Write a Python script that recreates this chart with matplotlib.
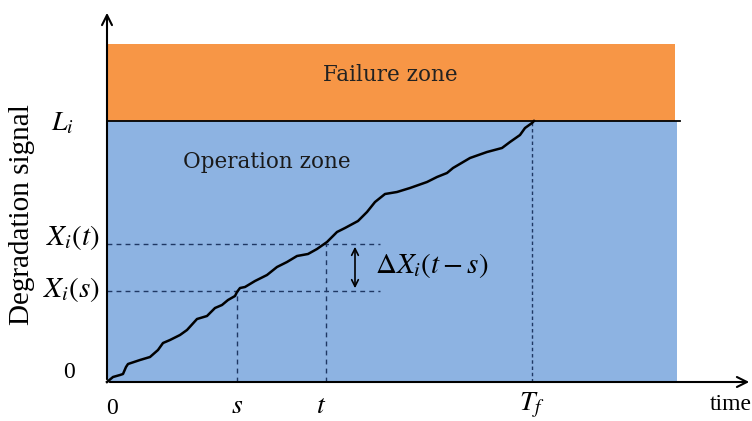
import matplotlib.pyplot as plt
import numpy as np

plt.rcParams['mathtext.fontset'] = 'stix'

# degradation path (time, signal)
path_t = [0, 6, 13, 16, 19, 21, 33, 43, 51, 56, 63, 73, 80, 90, 100, 108, 115, 121,
          128, 130, 133, 138, 148, 160, 170, 180, 190, 201, 210, 220, 230, 238, 251,
          260, 268, 278, 290, 303, 320, 330, 340, 346, 363, 380, 395, 403, 413, 418,
          425, 427]
path_x = [0, 5, 7, 8, 15, 18, 22, 25, 32, 39, 42, 47, 52, 63, 66, 74, 77, 82,
          86, 90, 94, 95, 101, 107, 115, 120, 126, 128, 133, 140, 150, 154, 161,
          170, 180, 188, 190, 194, 200, 205, 209, 214, 224, 230, 234, 240, 247, 254,
          259, 261]

# key levels / times
L_i = 261
s_val, t_val, Tf = 130, 219, 425
Xs, Xt = 91, 138
t_end = 570
top_fail = 338

orange = '#F79646'
blue = '#8DB3E2'
navy = '#1F3864'

fig = plt.figure(figsize=(7.52, 4.21), dpi=100)
ax = fig.add_axes([0, 0, 1, 1])
ax.set_xlim(-107, 752 - 107)
ax.set_ylim(382 - 421, 382)
ax.axis('off')

# zones
ax.fill_between([0, t_end - 2], L_i, top_fail, color=orange, lw=0)
ax.fill_between([0, t_end], 0, L_i, color=blue, lw=0)
ax.plot([0, 573], [L_i, L_i], color='black', lw=1.3)

# axes arrows
ax.annotate('', xy=(645, 0), xytext=(0, 0),
            arrowprops=dict(arrowstyle='->', lw=1.5, color='black', mutation_scale=18))
ax.annotate('', xy=(0, 372), xytext=(0, 0),
            arrowprops=dict(arrowstyle='->', lw=1.5, color='black', mutation_scale=18))

# guide lines
dash = dict(color=navy, lw=1, ls=(0, (3.5, 3)))
ax.plot([0, 273], [Xt, Xt], **dash)
ax.plot([0, 273], [Xs, Xs], **dash)
ax.plot([s_val, s_val], [0, Xs], **dash)
ax.plot([t_val, t_val], [0, Xt], **dash)
ax.plot([Tf, Tf], [0, L_i], color=navy, lw=1, ls=(0, (2.5, 2)))

# path
ax.plot(path_t, path_x, color='black', lw=1.8)

# delta arrow
ax.annotate('', xy=(248, Xs), xytext=(248, Xt),
            arrowprops=dict(arrowstyle='<->', lw=1.2, color='black', mutation_scale=12))

# labels
serif = 'Liberation Serif'
ax.text(283, 307, 'Failure zone', fontsize=15.5, family='DejaVu Serif',
        ha='center', va='center', color='#222222')
ax.text(76, 220, 'Operation zone', fontsize=15.5, family='DejaVu Serif',
        ha='left', va='center', color='#1a1a1a')
ax.text(-85, 167, 'Degradation signal', fontsize=21, family=serif,
        rotation=90, ha='center', va='center')
ax.text(645, -23, 'time', fontsize=17, family=serif, ha='right', va='center')
ax.text(-38, 9, '0', fontsize=17, family=serif, ha='center', va='center')
ax.text(5, -26, '0', fontsize=17, family=serif, ha='center', va='center')
ax.text(-45, 260, r'$L_i$', fontsize=20, ha='center', va='center')
ax.text(-7, 145, r'$X_i(t)$', fontsize=21, ha='right', va='center')
ax.text(-7, 92, r'$X_i(s)$', fontsize=21, ha='right', va='center')
ax.text(268, 116, r'$\Delta X_i(t-s)$', fontsize=21, ha='left', va='center')
ax.text(s_val, -23, r'$s$', fontsize=20, ha='center', va='center')
ax.text(t_val - 5, -23, r'$t$', fontsize=20, ha='center', va='center')
ax.text(Tf, -23, r'$T_f$', fontsize=20, ha='center', va='center')

fig.savefig('out.png', dpi=100)
